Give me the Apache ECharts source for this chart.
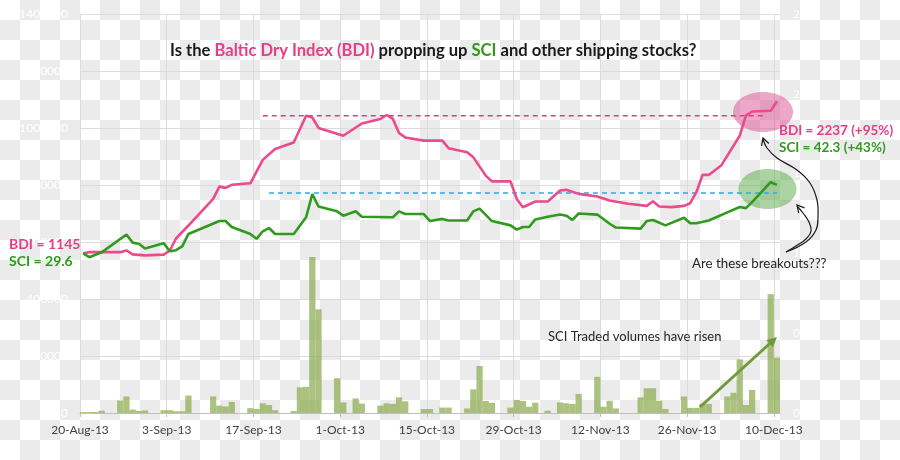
<!DOCTYPE html>
<html><head><meta charset="utf-8">
<script src="https://cdn.jsdelivr.net/npm/echarts@6/dist/echarts.min.js"></script>
<style>
html,body{margin:0;padding:0;}
#chart{width:900px;height:460px;background-color:#fff;background-image:repeating-conic-gradient(#ebebeb 0% 25%, #ffffff 0% 50%);background-size:40px 40px;background-position:0 0;}
</style></head><body><div id="chart"></div>
<script>
const tickLabels = ['20-Aug-13','3-Sep-13','17-Sep-13','1-Oct-13','15-Oct-13','29-Oct-13','12-Nov-13','26-Nov-13','10-Dec-13'];

const bdiDates = ['2013-08-20','2013-08-21','2013-08-26','2013-08-27','2013-08-28','2013-08-30','2013-09-02','2013-09-03','2013-09-04','2013-09-06','2013-09-10','2013-09-11','2013-09-12','2013-09-13','2013-09-16','2013-09-18','2013-09-20','2013-09-23','2013-09-25','2013-09-26','2013-09-27','2013-10-01','2013-10-04','2013-10-07','2013-10-08','2013-10-09','2013-10-10','2013-10-11','2013-10-14','2013-10-17','2013-10-18','2013-10-21','2013-10-22','2013-10-24','2013-10-25','2013-10-28','2013-10-29','2013-10-30','2013-11-01','2013-11-03','2013-11-05','2013-11-06','2013-11-08','2013-11-11','2013-11-13','2013-11-16','2013-11-19','2013-11-20','2013-11-21','2013-11-23','2013-11-25','2013-11-26','2013-11-27','2013-11-28','2013-11-29','2013-12-01','2013-12-04','2013-12-05','2013-12-06','2013-12-09','2013-12-10'];
const bdiValues = [1145,1154,1154,1166,1138,1131,1136,1166,1252,1345,1536,1624,1615,1637,1648,1816,1894,1941,2133,2120,2045,1989,2077,2109,2138,2110,2009,1977,1954,1954,1899,1870,1834,1703,1662,1662,1536,1476,1517,1517,1596,1601,1572,1553,1524,1501,1486,1519,1481,1477,1486,1505,1584,1708,1708,1775,1989,2133,2163,2168,2237];

const sciDates = ['2013-08-20','2013-08-21','2013-08-23','2013-08-27','2013-08-28','2013-08-29','2013-08-30','2013-09-02','2013-09-03','2013-09-04','2013-09-05','2013-09-06','2013-09-11','2013-09-12','2013-09-13','2013-09-16','2013-09-17','2013-09-18','2013-09-19','2013-09-20','2013-09-23','2013-09-25','2013-09-26','2013-09-27','2013-09-30','2013-10-01','2013-10-03','2013-10-04','2013-10-09','2013-10-10','2013-10-11','2013-10-14','2013-10-15','2013-10-17','2013-10-18','2013-10-21','2013-10-22','2013-10-23','2013-10-25','2013-10-28','2013-10-29','2013-10-30','2013-10-31','2013-11-01','2013-11-03','2013-11-05','2013-11-06','2013-11-07','2013-11-08','2013-11-11','2013-11-13','2013-11-14','2013-11-18','2013-11-19','2013-11-20','2013-11-22','2013-11-25','2013-11-26','2013-11-27','2013-11-29','2013-12-02','2013-12-04','2013-12-05','2013-12-06','2013-12-09','2013-12-10'];
const sciValues = [29.6,28.9,29.8,33.1,31.6,31.4,30.5,31.5,30.0,30.2,30.9,33.2,35.6,35.6,34.5,33.2,32.3,33.7,34.3,33.2,33.2,36.3,40.6,38.3,37.4,36.6,37.4,36.4,36.3,37.4,36.9,36.9,35.6,36.0,35.7,35.7,37.4,37.9,35.6,34.8,34.0,34.5,34.5,35.9,36.4,36.8,36.6,35.8,37.0,36.8,35.1,34.4,34.2,35.6,35.8,34.8,36.2,35.2,35.2,35.7,37.2,38.2,38.0,39.1,42.8,42.3];

const volDates = ['2013-08-20','2013-08-21','2013-08-22','2013-08-23','2013-08-26','2013-08-27','2013-08-28','2013-08-29','2013-08-30','2013-09-02','2013-09-03','2013-09-04','2013-09-05','2013-09-06','2013-09-10','2013-09-11','2013-09-12','2013-09-13','2013-09-16','2013-09-17','2013-09-18','2013-09-19','2013-09-20','2013-09-23','2013-09-24','2013-09-25','2013-09-26','2013-09-27','2013-09-30','2013-10-01','2013-10-03','2013-10-04','2013-10-07','2013-10-08','2013-10-09','2013-10-10','2013-10-11','2013-10-14','2013-10-15','2013-10-17','2013-10-18','2013-10-21','2013-10-22','2013-10-23','2013-10-24','2013-10-25','2013-10-28','2013-10-29','2013-10-30','2013-10-31','2013-11-01','2013-11-03','2013-11-05','2013-11-06','2013-11-07','2013-11-08','2013-11-11','2013-11-12','2013-11-13','2013-11-14','2013-11-18','2013-11-19','2013-11-20','2013-11-21','2013-11-22','2013-11-25','2013-11-26','2013-11-27','2013-11-28','2013-11-29','2013-12-02','2013-12-03','2013-12-04','2013-12-05','2013-12-06','2013-12-09','2013-12-10'];
const volValues = [3000,3000,3500,8000,44000,58000,12000,7000,9000,10000,10000,6000,6000,61000,58000,26000,23000,39000,17000,14000,34000,28000,10000,7000,90000,92000,547000,364000,122000,37000,51000,33000,26000,34000,32000,55000,41000,14000,14000,19000,19000,16000,83000,165000,42000,36000,19000,46000,42000,22000,36000,8000,37000,34000,32000,67000,127000,22000,43000,16000,55000,87000,87000,43000,14000,58000,18000,18000,32000,32000,58000,71000,188000,28000,81000,417000,194000];

const bdiResistance = 2133;
const bdiResistanceSpan = ['2013-09-18', '2013-12-08'];
const sciResistance = 40.8;
const sciResistanceSpan = ['2013-09-19', '2013-12-10'];

const DAY = 86400000, T0 = Date.UTC(2013, 7, 20);
const pos = s => (Date.parse(s) - T0) / DAY + 0.5;
const bdi0 = bdiValues[0], sci0 = sciValues[0];

const PINK = '#ec4a8c', GREEN = '#309a1e', FONT = 'Lato, sans-serif';

function vHead(tip, from, len, ang) {
  const dx = tip[0] - from[0], dy = tip[1] - from[1], L = Math.hypot(dx, dy);
  const ux = dx / L, uy = dy / L, c = Math.cos(ang), s = Math.sin(ang);
  return [[tip[0] - len * (ux * c - uy * s), tip[1] - len * (uy * c + ux * s)], tip,
          [tip[0] - len * (ux * c + uy * s), tip[1] - len * (uy * c - ux * s)]];
}

const chart = echarts.init(document.getElementById('chart'), null, {renderer: 'canvas'});
const greenTip = [777, 337], greenFrom = [700, 407];
const gHead = vHead(greenTip, greenFrom, 11, 0.45);

const option = {
  animation: false,
  title: {
    text: '{k|Is the }{p|Baltic Dry Index (BDI)}{k| propping up }{g|SCI}{k| and other shipping stocks?}',
    left: 165, top: 37,
    textStyle: {
      rich: {
        k: {fontFamily: FONT, fontWeight: 'bold', fontSize: 16.6, color: '#1a1a1a'},
        p: {fontFamily: FONT, fontWeight: 'bold', fontSize: 16.6, color: '#e63d88'},
        g: {fontFamily: FONT, fontWeight: 'bold', fontSize: 16.6, color: '#2f9a1c'}
      }
    }
  },
  grid: [
    {left: 80, right: 120, top: 14, bottom: 47, outerBoundsMode: 'none'},
    {left: 80, width: 700 * 112 / 113, top: 14, bottom: 47, outerBoundsMode: 'none'}
  ],
  xAxis: [
    {gridIndex: 0, type: 'value', min: 0, max: 113,
     axisLine: {show: true, lineStyle: {color: '#bfbfbf', width: 1}},
     axisTick: {show: false}, axisLabel: {show: false}, splitLine: {show: false}},
    {gridIndex: 1, type: 'value', min: 0, max: 112, interval: 14,
     axisLine: {show: false},
     axisTick: {show: true, length: 4, lineStyle: {color: '#bfbfbf'}},
     axisLabel: {show: true, margin: 11, fontFamily: FONT, fontSize: 12, color: '#404040',
       showMinLabel: true, showMaxLabel: true,
       formatter: v => tickLabels[Math.round(v / 14)] || ''},
     splitLine: {show: true, lineStyle: {color: '#dcdcdc', width: 1}}}
  ],
  yAxis: [
    {gridIndex: 0, type: 'value', min: 0, max: 1400000, interval: 200000, position: 'left',
     axisLine: {show: false}, axisTick: {show: false},
     axisLabel: {color: '#ffffff', fontFamily: FONT, fontSize: 12, margin: 12, formatter: v => String(v)},
     splitLine: {show: true, lineStyle: {color: '#dcdcdc', width: 1}}},
    {gridIndex: 0, type: 'value', min: 0, max: 2.5, interval: 0.5, position: 'right',
     axisLine: {show: false}, axisTick: {show: false},
     axisLabel: {color: '#ffffff', fontFamily: FONT, fontSize: 12, margin: 13, formatter: v => String(v)},
     splitLine: {show: false}},
    {gridIndex: 1, type: 'value', show: false, min: 0, max: 1, splitLine: {show: false}}
  ],
  series: [
    {type: 'bar', xAxisIndex: 0, yAxisIndex: 0, barWidth: 6.25, z: 1,
     itemStyle: {color: 'rgba(140,170,80,0.72)'},
     data: volDates.map((d, i) => [pos(d), volValues[i]])},
    {type: 'line', xAxisIndex: 0, yAxisIndex: 1, symbol: 'none', z: 4, silent: true,
     lineStyle: {color: '#e23c80', width: 1.5, type: [5, 4]},
     data: bdiResistanceSpan.map(d => [pos(d), bdiResistance / bdi0])},
    {type: 'line', xAxisIndex: 0, yAxisIndex: 1, symbol: 'none', z: 4, silent: true,
     lineStyle: {color: '#2fa8ea', width: 1.5, type: [5, 4]},
     data: sciResistanceSpan.map(d => [pos(d), sciResistance / sci0])},
    {type: 'line', xAxisIndex: 0, yAxisIndex: 1, symbol: 'none', z: 5,
     lineStyle: {color: PINK, width: 2.6},
     data: bdiDates.map((d, i) => [pos(d), bdiValues[i] / bdi0])},
    {type: 'line', xAxisIndex: 0, yAxisIndex: 1, symbol: 'none', z: 5,
     lineStyle: {color: GREEN, width: 2.6},
     data: sciDates.map((d, i) => [pos(d), sciValues[i] / sci0])}
  ],
  graphic: {elements: [
    {type: 'ellipse', shape: {cx: 763, cy: 112, rx: 30, ry: 20}, style: {fill: 'rgba(220,80,145,0.5)'}, z: 1},
    {type: 'ellipse', shape: {cx: 767.5, cy: 189, rx: 29, ry: 20}, style: {fill: 'rgba(90,170,70,0.5)'}, z: 1},
    {type: 'text', x: 9, y: 244, z: 100, style: {text: 'BDI = 1145', fill: '#e63d88', font: 'bold 14px ' + FONT, verticalAlign: 'middle'}},
    {type: 'text', x: 9, y: 261, z: 100, style: {text: 'SCI = 29.6', fill: '#2f9a1c', font: 'bold 14px ' + FONT, verticalAlign: 'middle'}},
    {type: 'text', x: 779, y: 131, z: 100, style: {text: 'BDI = 2237 (+95%)', fill: '#e63d88', font: 'bold 13.5px ' + FONT, verticalAlign: 'middle'}},
    {type: 'text', x: 779, y: 148, z: 100, style: {text: 'SCI = 42.3 (+43%)', fill: '#2f9a1c', font: 'bold 13.5px ' + FONT, verticalAlign: 'middle'}},
    {type: 'text', x: 692, y: 264, z: 100, style: {text: 'Are these breakouts???', fill: '#262626', font: '13.3px ' + FONT, verticalAlign: 'middle'}},
    {type: 'text', x: 548, y: 337, z: 100, style: {text: 'SCI Traded volumes have risen', fill: '#262626', font: '13px ' + FONT, verticalAlign: 'middle'}},
    {type: 'polyline', z: 100, shape: {smooth: 0.4, points: [[763, 139], [767, 148], [777, 158], [797, 170], [810, 183], [817, 200], [818, 217], [816, 230], [806, 242], [786, 252]]},
     style: {stroke: '#1a1a1a', lineWidth: 1.2, fill: null}},
    {type: 'polyline', z: 100, shape: {points: vHead([763, 138], [766, 147], 8, 0.5)}, style: {stroke: '#1a1a1a', lineWidth: 1.2, fill: null}},
    {type: 'polyline', z: 100, shape: {smooth: 0.4, points: [[797, 206], [803, 213], [809, 222], [811, 231], [806, 239], [796, 246], [786, 252]]},
     style: {stroke: '#1a1a1a', lineWidth: 1.2, fill: null}},
    {type: 'polyline', z: 100, shape: {points: vHead([797, 205], [803, 212], 8, 0.5)}, style: {stroke: '#1a1a1a', lineWidth: 1.2, fill: null}},
    {type: 'line', z: 100, shape: {x1: greenFrom[0], y1: greenFrom[1], x2: 772, y2: 341.5}, style: {stroke: '#6f9a3a', lineWidth: 3}},
    {type: 'polygon', z: 100, shape: {points: gHead}, style: {fill: '#6f9a3a'}}
  ]}
};
chart.setOption(option);
</script></body></html>
